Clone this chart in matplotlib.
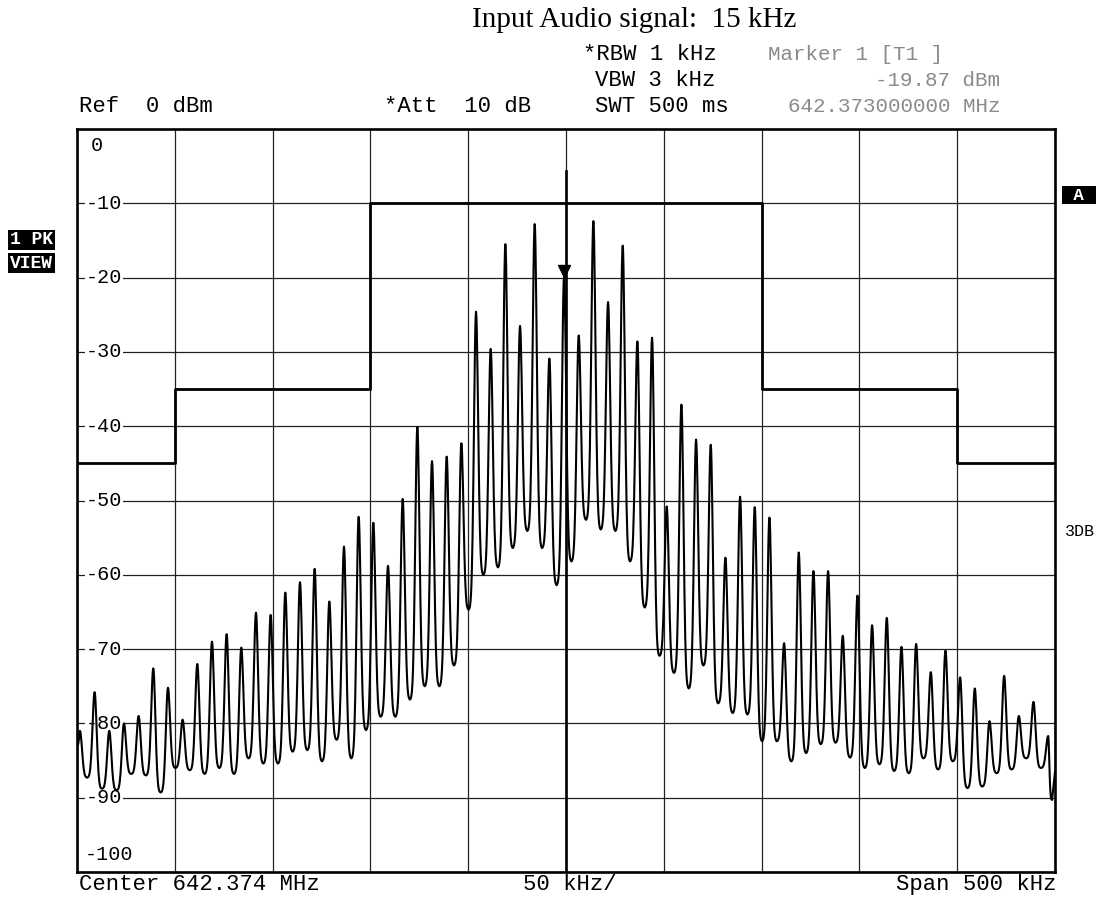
import numpy as np
import matplotlib.pyplot as plt

# Analyzer settings ---------------------------------------
center_mhz = 642.374
span_khz = 500
div_khz = 50
ref_dbm = 0
marker_mhz = 642.373
marker_dbm = -19.87

# Spectral lines ------------------------------------------
# lines sit every 7.5 kHz around the marker line (index 0)
line_step_khz = 7.5
line_index = np.arange(-33, 34)

peak_dbm = [-81.0, -75.8, -81.0, -80.0, -79.0, -72.6, -75.2, -79.5, -72.0, -69.0,
            -68.0, -69.8, -65.1, -65.4, -62.4, -61.0, -59.2, -63.6, -56.2, -52.2,
            -53.0, -58.8, -49.8, -40.1, -44.7, -44.1, -42.3, -24.6, -29.6, -15.5,
            -26.5, -12.8, -30.9, -19.87, -27.8, -12.4, -23.3, -15.7, -28.6, -28.1,
            -50.8, -37.1, -41.8, -42.5, -57.7, -49.5, -50.9, -52.3, -69.2, -57.0,
            -59.5, -59.5, -68.2, -62.8, -66.8, -65.8, -69.7, -69.3, -73.1, -70.2,
            -73.8, -75.3, -79.7, -73.6, -79.0, -77.1, -81.7]

# floor level between neighbouring lines
trough_dbm = [-87.3, -88.8, -89.0, -86.8, -87.0, -89.3, -86.0, -86.3, -86.8, -86.0,
              -86.8, -84.7, -85.4, -85.4, -83.8, -83.6, -85.1, -82.2, -84.7, -80.9,
              -79.1, -79.1, -76.8, -75.0, -75.0, -72.2, -64.7, -60.0, -59.0, -56.4,
              -54.1, -56.4, -61.4, -58.2, -52.6, -53.9, -54.1, -58.2, -64.4, -70.9,
              -73.2, -75.3, -72.2, -77.3, -78.6, -78.8, -82.4, -82.4, -85.1, -84.0,
              -82.8, -82.6, -84.6, -86.0, -85.5, -86.4, -86.7, -84.7, -86.2, -85.1,
              -88.7, -88.5, -86.7, -86.2, -84.7, -86.0]

edge_left_dbm = -83.0
end_dip_dbm = -90.3
edge_right_dbm = -86.5

# Limit line (kHz from center, dBm)
limit_khz = [-250, -200, -200, -100, -100, 100, 100, 200, 200, 250]
limit_dbm = [-45, -45, -35, -35, -10, -10, -35, -35, -45, -45]

# Trace ---------------------------------------------------
marker_khz = (marker_mhz - center_mhz) * 1000
line_khz = marker_khz + line_step_khz * line_index
half = span_khz / 2

# filter shape of one line, crest (1) -> floor (0)
u = np.linspace(0, 1, 20)
g = np.exp(-(u / 0.4) ** 2)
prof = (g - g[-1]) / (1 - g[-1])


def side(f0, f1, top, floor):
    # one flank of a line, from the crest at f0 down to the floor at f1
    return np.linspace(f0, f1, len(prof)), floor + (top - floor) * prof


tx, ty = [], []
x, y = side(line_khz[0], -half, peak_dbm[0], edge_left_dbm)
tx += list(x[::-1]); ty += list(y[::-1])
for i in range(len(line_khz) - 1):
    mid = (line_khz[i] + line_khz[i + 1]) / 2
    x, y = side(line_khz[i], mid, peak_dbm[i], trough_dbm[i])
    tx += list(x[1:]); ty += list(y[1:])
    x, y = side(line_khz[i + 1], mid, peak_dbm[i + 1], trough_dbm[i])
    tx += list(x[::-1][1:]); ty += list(y[::-1][1:])
x, y = side(line_khz[-1], half - 1.5, peak_dbm[-1], end_dip_dbm)
tx += list(x[1:]); ty += list(y[1:])
tx.append(half); ty.append(edge_right_dbm)

# Figure --------------------------------------------------
W, H = 1101, 905
fig = plt.figure(figsize=(W / 100, H / 100), dpi=100)
ax = fig.add_axes([77 / W, 1 - 872 / H, (1055 - 77) / W, (872 - 129) / H])


def px(xp, yp):
    return xp / W, 1 - yp / H


mono = 'Liberation Mono'
ax.set_xlim(-half, half)
ax.set_ylim(-100, ref_dbm)
ax.set_xticks(np.arange(-half, half + 1, div_khz))
ax.set_yticks(np.arange(-100, 1, 10))
ax.tick_params(length=0, labelleft=False, labelbottom=False)
ax.grid(True, color='#222222', lw=0.9)
for s in ax.spines.values():
    s.set_linewidth(1.9)

ax.plot(tx, ty, color='black', lw=1.5, zorder=3)
ax.plot(limit_khz, limit_dbm, color='black', lw=2.0, zorder=4)
ax.plot([0, 0], [-5.6, -100], color='black', lw=1.9, zorder=4)
ax.plot(marker_khz, marker_dbm + 0.75, 'v', color='black', ms=8, zorder=5)

# level labels inside the screen
for lv in range(-10, -100, -10):
    ax.text(-245.5, lv, str(lv), family=mono, fontsize=14.5, va='center', ha='left',
            bbox=dict(fc='white', ec='none', pad=0.5), zorder=2)
ax.text(-243, -2.2, '0', family=mono, fontsize=14.5, va='center', ha='left')
ax.text(-246, -97.6, '-100', family=mono, fontsize=14.5, va='center', ha='left')

# header
fig.text(*px(634, 20), 'Input Audio signal:  15 kHz', family='Liberation Serif',
         fontsize=21, ha='center', va='center')
hdr = dict(family=mono, fontsize=16, va='center')
grey = dict(family=mono, fontsize=15, va='center', color='#8a8a8a')
fig.text(*px(583, 55), '*RBW 1 kHz', ha='left', **hdr)
fig.text(*px(595, 81), 'VBW 3 kHz', ha='left', **hdr)
fig.text(*px(595, 107), 'SWT 500 ms', ha='left', **hdr)
fig.text(*px(79, 107), 'Ref  0 dBm', ha='left', **hdr)
fig.text(*px(384, 107), '*Att  10 dB', ha='left', **hdr)
fig.text(*px(768, 55), 'Marker 1 [T1 ]', ha='left', **grey)
fig.text(*px(1000, 81), f'{marker_dbm:.2f} dBm', ha='right', **grey)
fig.text(*px(1000, 107), f'{marker_mhz:.9f} MHz', ha='right', **grey)

# footer
fig.text(*px(79, 884), f'Center {center_mhz:.3f} MHz', ha='left', **hdr)
fig.text(*px(570, 884), f'{div_khz} kHz/', ha='center', **hdr)
fig.text(*px(1056, 884), f'Span {span_khz} kHz', ha='right', **hdr)

# side annotations
box = dict(fc='black', ec='none', pad=1.2)
fig.text(*px(10, 240), '1 PK', family=mono, fontsize=13, weight='bold',
         color='white', ha='left', va='center', bbox=box)
fig.text(*px(10, 263), 'VIEW', family=mono, fontsize=13, weight='bold',
         color='white', ha='left', va='center', bbox=box)
fig.text(*px(1079, 195), ' A ', family=mono, fontsize=12.5, weight='bold',
         color='white', ha='center', va='center', bbox=box)
fig.text(*px(1065, 531), '3DB', family=mono, fontsize=12, ha='left', va='center')

fig.savefig('out.png', dpi=100, facecolor='white')
